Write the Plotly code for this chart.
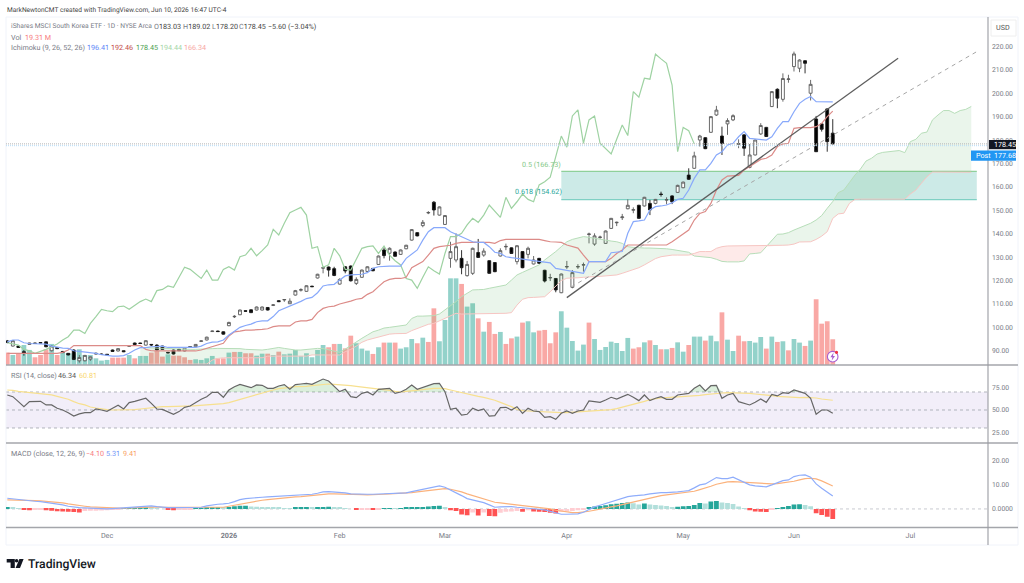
import plotly.graph_objects as go

# iShares MSCI South Korea ETF, daily bars, indexed by trading session
opens = [94.2,92,92,89.6,92.7,93.3,93.5,93.8,90,91.4,
89.7,88.9,90.3,85.7,85.7,86.4,88.9,88.6,88.5,90.3,
89.9,90,91.9,93.3,93.3,92.4,92.7,92.4,92,89.3,
90.3,90.6,89.9,91.6,91.7,94,94.6,98.2,98.4,98.1,
100.7,104.5,105.4,107.1,107.5,107.4,107.4,108.5,109.4,111.4,
111.7,110.1,113.8,115.9,115.4,117.6,121.1,125.3,125.8,125.1,
118.5,125.9,126.2,118.8,121.4,123.9,125.2,126.9,133.1,131.7,
132.2,131.2,133.6,137.3,140.5,143.5,148.9,153.5,148,144,
129.5,128.8,129.5,122.1,123.1,132,130.9,128.5,127.7,130.5,
134.4,134,128.1,132.4,131.2,127.1,129.5,124.4,121.1,120.9,
114.8,125.8,117.1,125.8,126.6,139.7,135.6,138.4,135.9,142.3,
144.7,146.9,150.7,150.1,152.2,151.9,153,153,157,154.4,
156.2,157.7,159.7,165.1,168,180.1,181.1,183.4,190.8,181.8,
187,188.7,178.3,182.3,168.4,173.7,182.7,185.5,194.4,201.8,
197.5,206,211.5,210.8,214,200.1,189.1,187,193.4,183.03]

highs = [94.6,94.5,92.1,90.3,93.4,93.4,93.7,94,92.3,91.6,
89.9,89,90.6,88.2,88.2,87.5,89.2,88.8,88.6,90.5,
91.1,90.1,92.3,93.5,93.4,94.5,92.8,92.8,92.2,89.5,
90.5,90.8,91.4,92,92.8,94.4,96,98.6,98.6,98.3,
102.4,105.2,107.6,107.3,107.7,108.9,108.9,108.7,109.9,111.6,
112.1,112.4,116,116.7,118,117.8,122.9,125.8,126,125.9,
121,126.2,126.5,121.4,124.7,126.1,125.4,130.7,134.2,134.2,
132.5,133.3,135.3,142,140.7,145.9,149.7,154,151.7,148,
136.6,140.2,133,128.4,134.1,137.8,133.8,128.7,127.9,133.8,
135.8,134.2,135.2,132.6,134.5,130.5,129.7,124.6,122.9,121.1,
123,128.4,124.5,127,127.7,140.5,140.2,139.2,141.4,146.8,
145.2,148.5,154.7,151.3,152.4,155.8,154.5,154.9,158,155.6,
156.5,161,162.3,168,175.1,182.3,181.3,190.3,194.7,185.8,
189.4,191.1,180.4,182.5,178.4,180.3,187.3,185.7,201,202.2,
208.6,208,217.9,214.6,214.2,205.8,190.4,187.2,193.6,189.02]

lows = [93.2,91.8,91.2,87.9,92.6,92.9,93.2,91.5,89.7,90.7,
89,88,86,84.9,85.5,85.7,88.5,88.2,88,89.5,
89.7,89.4,91.7,92.5,92.9,92.2,92,90,90.4,88.9,
88.4,89.9,89.7,91.4,91.6,93.8,94.4,98,98,96.9,
100.5,104,105.2,106.7,106.1,107.2,107.2,107.2,109.1,110.8,
110.9,110,113.6,115.3,115.2,117.2,120.9,123.1,121.7,121.9,
118.3,123.1,119.6,118.1,121.2,123.7,124,126.7,129.5,128.5,
130.2,131,133.4,137.1,138.9,142.8,148.4,147.8,147.8,143.8,
125.5,127.8,122.7,121.7,122.4,129.7,130.2,122.9,123.6,130.3,
133,131.4,126.9,125.3,129.5,126.9,127.2,119.2,119.8,115,
114.6,125,116.7,125,123.8,135.9,134.9,137.9,135.7,142.1,
143.3,145.9,150.5,148.8,146.4,151.7,148,152.6,155.9,152.6,
152.7,157.5,159.5,163,167.8,177.3,176.2,183.2,190.4,173.7,
182.3,188.2,176.6,173.3,168,173.5,182.3,181.4,194.2,193.7,
196.5,204.6,209.4,209.1,208.6,197,175,183.7,175.1,178.2]

closes = [93.6,94.3,91.4,88.9,93.3,93.1,93.3,91.7,92,90.9,
89.2,88.2,86.3,87.1,88,87.4,88.7,88.4,88.2,89.7,
90.9,89.6,92.1,92.7,93.1,94.3,92.5,90.3,90.6,89.1,
88.6,90,91.2,91.8,92.7,94.2,95.8,98.4,98.2,97.1,
102.1,104.7,107.4,106.9,106.3,108.7,108.7,107.4,109.6,111,
111.9,111.2,115.7,116.1,117.8,117.4,122.7,125.5,124.5,122.2,
120.5,124.1,119.9,120.5,124.5,125.9,124.2,130.5,130.7,133.8,
130.4,133.1,135.1,141.8,139.1,144.9,149.1,150.2,151.5,147.8,
132.4,134.5,125.5,126.9,133.8,129.9,132.6,123.1,123.8,132.8,
134.6,131.6,134.9,125.5,133.8,128.8,127.4,119.8,121.3,116,
122.8,126,123.4,126,126.8,139.9,139.1,138.6,141.2,146.6,
144.9,147.2,152.2,150.3,146.6,155.6,150.2,154.7,156.8,154.6,
153.7,160.7,162.1,163.3,173.3,181.8,176.4,190.1,192.9,178.6,
188.4,190.5,178.5,176.6,173.7,180.1,186.3,181.6,200.8,198,
206.4,206.2,216.9,214.3,212.9,203.9,175.1,184.7,179.4,178.45]

# Volume in millions of shares
volume = [9.3,7.5,8.8,15,11.3,5.8,7.5,11.8,15.8,7.5,
9.3,8.8,8.8,11.8,7.5,7.5,5,3.3,3.8,5.5,
5.5,5.5,7.5,5,6.8,6.8,9.3,10.5,6.3,8,
7,7,5.8,3.8,4.3,3.8,5,6.8,5,5,
9.3,9.8,9.8,8.8,8.8,7,8.5,8.5,7.5,10,
8,8.5,11.3,6.8,8.8,5.8,11.3,15,13.3,15.8,
15.8,12.5,22,16.3,12.3,10.8,8.3,13.3,16.8,16.8,
16.8,12.3,13.3,19.5,16.3,20.5,17.3,42.5,17.8,33.8,
65,65,60.8,43.8,46.3,35,25,32.3,23.3,24.8,
15.8,20,21.3,31.8,32.8,24.5,25.8,26.3,16.3,24.5,
40.3,28,18,10.8,15.3,31.8,19.5,11.3,13.5,17.5,
16.5,10.5,20.3,12.3,13.3,17,18.5,15,11.8,11.8,
12.8,17,10,15,21.3,21.3,18.3,22,17.8,39.5,
19,10.5,22,17.8,18,16.8,21,12.3,21.3,17.3,
17.8,11,19.5,16.8,14.3,18.3,49.3,31,32.8,19.31]

down_volume_sessions = [0,2,5,6,7,9,19,20,21,23,26,27,28,30,31,32,33,38,39,41,43,44,47,49,58,59,
61,62,66,68,70,74,76,77,82,85,87,88,90,91,93,96,97,98,99,105,113,114,116,118,120,123,126,129,
132,133,137,139,141,144,146,147,148,149]

tenkan = [93.8,94.6,94.6,93.4,93.1,93.1,93.1,92.8,92,91.4,
91.1,91,90,89.7,89.4,89.4,88.9,88.3,87.9,87.7,
87.7,87.9,88.9,90.3,91.3,91.3,91.7,92,92,91.4,
91.4,91.3,91.3,91.3,91.4,92,93.1,93.7,93.8,94.6,
96.7,98.3,100,100.8,101.4,102.4,102.8,102.8,104.6,107.1,
108.1,108.8,110,111.1,112.3,112.8,114.8,117.7,118.2,118.4,
120.2,122,122.4,122.4,122.7,123.4,125.2,125.9,126.2,126.2,
126.2,126.2,129.5,131.4,133.1,137.3,140.9,142.6,142.6,142.6,
140.9,139.9,138.8,137.6,136.6,136.3,136.3,134.5,132.1,131.6,
130.2,129.8,129.5,129.4,129.1,128.8,128.4,128.1,127.6,125.2,
124.8,124.5,124.1,123.5,123.1,128.1,128.1,128.1,128.1,131.9,
132.2,132.4,140.2,145.2,145.5,145.9,150.2,151.6,151.9,152.3,
153.3,154.7,155.2,158.7,163.7,167.3,167.3,170.1,173.7,175.1,
178,178.7,181.5,183.7,180.8,180.5,180.4,180.1,181.5,185.1,
188,188,192.2,195.8,197.5,198.7,196.5,196.5,196.5,196.41]

kijun = [88.9,88.9,88.9,88.9,88.9,88.9,88.9,88.9,88.9,88.9,
89.3,90.3,92.2,92.2,92.2,92.2,92.2,92.2,92.2,92.2,
92.2,92.2,92.2,92.2,92.2,90.6,90,89.9,89.9,89.9,
89.9,89.9,89.9,89.9,89.9,90.3,91,91.7,92.7,93.2,
96.3,98.1,98.4,98.8,98.8,98.8,99.1,99.4,100.3,100.6,
100.6,100.6,102.3,102.8,102.8,103.4,106.3,108.1,108.8,109.1,
110,110.5,111.2,112,112.4,114.1,115.2,117.4,119.5,120.5,
120.9,120.9,121.4,125.5,126.7,128.1,130.9,133.8,134.5,134.8,
135.1,135.9,136.3,136.3,136.3,136.3,136.3,136.3,135.9,137.1,
137.6,137.6,137.6,137.6,137.6,137.6,137.6,137.1,136.6,136.5,
136.3,135.2,134.5,133.9,130.9,128.1,128.1,128.1,128.1,129.5,
131.6,133.1,135.2,135.2,135.2,135.2,135.2,135.2,135.2,135.2,
136.6,138.4,139.8,141.6,145.9,148.7,149.5,153,158.7,163,
164.7,164.7,165,167.3,168.7,170.4,171.8,172.3,173.7,177.3,
178.4,178.7,185.1,185.4,185.4,185.4,185.8,187.2,190.1,192.46]

# Lagging span, plotted 25 sessions behind
chikou = [93.4,92.8,92.4,90.6,90,88.9,89.6,90.6,91.7,92.9,
94.6,96,98.8,98.8,97.4,101.7,104.6,107.7,107.1,106.7,
108.8,109.1,107.7,109.3,111,112.1,111,115.7,116.2,117.7,
117.1,121.4,125.7,124.8,122.8,120.9,124.5,120.2,120.2,124.8,
125.9,124.5,130.2,130.9,133.8,130.6,132.8,135.2,141.9,139.5,
144.5,149,150.2,151.3,148,133.8,134.5,125.7,126.7,133.8,
130.6,124.8,124.5,129.5,133.8,134.5,134.8,131.6,134.8,130.9,
128.5,126.7,120.9,120.2,116.7,121.4,125.9,124.2,122.8,131.6,
138.8,138.8,140.2,143.8,146.6,144.9,148,152.3,149.5,147,
155.6,150.9,153.7,157,154.7,153.7,160.9,162.3,164.2,173,
181.8,177,190.4,193,178.7,188.7,190.4,178.7,176.6,174.1,
180.4,186.5,182,200.8,198.4,206.5,206.1,216.8,214.8,212.9,
203.6,175.1,185.5,184.1,178.45]

# Leading spans, from session 24 out to 25 sessions past the last bar
span_first_session = 24
span_a = [91.4,91.3,91.1,91,90.9,90.7,
90.6,90.6,90.6,90.6,90.6,90.6,90.6,
90.9,91,91,91,91,90.9,90.6,90.4,90.3,
90.3,90.6,91,91.4,91,90.6,90.3,90.3,90.6,90.9,91,90.9,90.3,89.7,89.3,
90.7,92.3,93.7,95.3,96.7,98.1,98.8,99.7,100,
100.3,100.7,101,103.8,104.8,104.8,104.8,105,105.7,107.4,
109.1,111,113.1,114.5,116,116.1,116.2,116.7,117.1,117.7,
118.1,120.2,122.4,123.5,124.5,125.4,126.7,128.8,130.5,132.4,
134.5,136.6,137.6,138.3,138.8,138.5,138,137.8,137.3,136.9,
136.6,135.9,134.5,134.2,133.9,133.9,133.9,133.9,133.9,133.6,
133.3,133,132.4,132.1,130.5,130.2,129.9,129.8,129.1,128.2,
128,128,128,128.4,131.4,131.6,131.9,134.5,137.3,139.8,
139.9,140.5,141.6,142.6,143.8,144.5,145.9,147.8,150.9,153.8,
157.6,158.7,161.9,165.1,167.7,171.1,172.3,174.1,174.8,175,
175.4,175.6,174.7,179.4,180.4,183,183.5,188.7,190.8,192.7,
192.7,191.5,192.7,193.2,194.44]

span_b = [84.3,84.3,84.3,84.3,84.3,84.3,84.3,84.3,84.3,84.3,84.3,84.3,84.3,
86,86.7,87,
87,87,87,87,87,87,87,
87.7,87.7,87.7,87.7,87.7,87.7,87.7,87.7,
88.2,88.2,88.2,88.2,88.2,88.2,
89.6,90.6,92,93.6,94.6,95.3,96,96.7,97.1,
97.3,97.4,97.4,
98.6,99.6,100.6,101.3,101.7,102.8,103.8,104.8,
106,105.7,105.7,105.7,105.8,105.8,105.8,106,106,106,
106.3,109.5,112,112.7,112.8,112.8,113.1,115.2,117.4,120,
121,121,121.2,121.4,121.7,121.7,121.8,122,122.1,122.4,
123.1,123.8,124.8,125.5,126.7,128.1,129.4,130.2,130.6,130.9,130.9,
130.9,130.9,131.6,132.4,132.4,132.4,133.8,134.5,
134.8,134.8,134.8,134.8,134.8,134.8,134.8,134.8,134.8,
135,135.1,135.2,135.6,136.5,136.6,136.6,137.6,139,140.9,146.6,
148.5,148.8,153,154.7,
154.8,154.8,154.8,154.8,154.8,154.8,154.8,154.8,154.8,
157,158.7,161.6,164.4,
166.4,166.4,166.4,166.4,166.4,166.4,166.4,166.34]

rsi = [66.7,64.8,59.3,53.7,59.3,59.6,59.6,55.6,55.6,51.9,
50,47,43.3,45.6,47,47,51.1,50,48.5,51.9,
55.2,51.1,58.2,59.6,61.1,63,57.4,51.1,50.7,48.2,
45.2,48.2,53,54.4,58.2,61.9,64.8,69.6,69.6,64.1,
72.2,75.9,78.5,76.7,74.8,77.8,77.4,74.1,74.1,76.7,
78.2,73,78.2,78.9,79.6,78.5,81.5,84.4,82.2,76.7,
70.4,73,64.8,63.7,68.5,70,66.7,73,73.7,74.1,
68.5,70,73,77.8,73,75.2,77.8,79.3,79.6,70.4,
50.7,51.9,44.4,45.2,51.9,49.3,51.1,43.3,43.7,52.6,
53,50,53.7,46.3,51.9,48.9,48.2,41.8,42.6,39.6,
46.3,48.9,46.3,48.9,50,60,59.3,58.5,61.1,64.1,
62.2,64.8,67.4,64.1,60.4,66.7,60.4,63,64.8,61.9,
61.9,66.7,67.4,68.5,74.1,77.8,71.1,77,77.4,63,
66.7,68.5,59.3,57.4,55.6,58.5,62.2,58.5,67.4,65.6,
69.3,68.5,72.2,70.4,68.5,63,45.2,50,50,46.34]

rsi_ma = [72.2,71.9,70.7,70,69.6,69.3,68.5,67.8,66.7,65.2,
63.7,61.9,59.3,57,55.6,53.3,52.2,51.1,50.4,50,
50,50,50,50.4,51.1,51.9,52.6,53.3,53.7,53.7,
54.1,54.1,54.4,54.4,54.8,55.6,55.9,56.3,56.7,57,
58.2,60,61.9,63.7,65.6,67.4,69.3,70.7,72.2,73.7,
74.8,75.2,75.9,75.9,76.3,77,77.8,78.5,78.9,78.5,
78.2,77.4,77,76.3,75.6,75.2,74.4,74.1,73,71.9,
70.7,70,70.7,71.4,72.2,73,73.7,74.1,74.1,73.7,
72.2,70.7,68.9,67.8,66.3,65.2,64.1,62.6,60.8,58.5,
56.3,53.7,50.7,49.3,48.9,48.5,48.2,47.8,47.4,47,
47,47,47.4,47.4,47.8,48.2,48.5,48.9,49.6,50.4,
51.5,53,54.8,56.7,58.2,59.6,61.5,62.6,63.3,63.7,
64.1,64.1,64.4,64.8,65.6,66.3,67,67.8,68.5,68.9,
69.3,69.3,69.3,68.9,68.5,67.8,67.4,66.7,65.9,65.2,
64.8,64.1,63.7,63.7,64.1,64.1,63.3,62.2,61.5,60.81]

macd = [4.38,4.11,3.7,3.42,3.29,3.15,3.02,2.74,2.33,2.06,
1.65,1.1,.69,.56,.42,.28,.15,.15,.01,.15,
.28,.42,.56,.69,.97,1.1,1.24,.97,.69,.56,
.56,.56,.56,.56,.56,.69,1.24,1.65,1.92,2.06,
2.33,3.02,3.83,4.24,4.52,4.65,4.79,4.93,5.06,5.2,
5.34,5.47,5.61,5.75,5.88,6.02,6.43,6.98,7.11,6.98,
6.84,6.57,6.16,6.02,6.02,6.02,6.02,6.16,6.29,6.43,
6.43,6.57,6.57,7.11,7.52,8.07,8.62,9.03,9.44,8.89,
7.8,6.84,5.47,4.24,3.7,3.15,2.6,1.65,.69,.83,
.97,.97,.69,.56,.28,.01,-.13,-.4,-1.08,-1.77,
-2.18,-2.18,-2.18,-2.04,-1.36,-.26,.83,1.51,2.2,3.02,
3.7,4.38,5.06,5.34,5.47,5.75,6.16,6.57,6.7,6.7,
6.7,6.98,7.25,7.52,8.62,9.85,10.25,11.62,12.85,12.44,
12.44,12.99,11.89,10.8,9.85,9.44,9.16,9.03,9.85,10.66,
11.62,11.89,13.26,13.8,13.94,12.99,10.25,8.48,6.84,5.31]

signal = [3.7,3.7,3.56,3.56,3.42,3.42,3.29,3.15,2.88,2.74,
2.47,2.06,1.65,1.38,1.1,.83,.69,.56,.42,.28,
.28,.28,.42,.56,.69,.83,.83,.83,.69,.69,
.69,.69,.56,.56,.56,.56,.56,.69,.69,.69,
1.1,1.51,2.06,2.6,3.02,3.29,3.56,3.83,4.11,4.24,
4.52,4.65,4.93,5.06,5.34,5.61,5.88,6.16,6.16,6.16,
6.16,6.16,6.16,6.02,5.88,5.75,5.75,5.88,6.02,6.16,
6.29,6.29,6.43,6.7,6.98,7.25,7.52,7.8,8.21,8.34,
8.07,7.66,6.98,6.16,5.47,4.79,4.11,3.42,2.74,2.47,
2.2,2.2,1.92,1.65,1.38,1.1,.83,.42,.01,-.54,
-.95,-1.22,-1.49,-1.49,-1.36,-.95,-.54,.01,.42,.83,
1.24,1.79,2.33,2.88,3.56,4.11,4.65,5.06,5.47,5.75,
6.02,6.29,6.57,6.84,7.25,7.93,8.48,9.3,10.12,10.67,
11.07,11.21,11.07,10.94,10.66,10.39,10.25,10.12,10.25,10.39,
10.66,10.94,11.35,11.89,12.44,12.58,12.3,11.48,10.39,9.41]

macd_hist = [.5,.4,.3,-.4,-.5,-.4,-.2,-.5,-.7,-.9,
-1,-1.1,-1.3,-1.5,-.8,-.7,-.7,-.6,-.5,-.4,
-.2,.1,.2,.3,.4,.6,.5,.3,0,-.2,
-.5,-.3,-.2,-.1,.1,.2,.6,.7,.8,.7,
.8,1.1,1.3,1.3,1,.9,.8,.7,.5,.4,
.3,.2,.4,.5,.6,.5,.6,.8,.9,.6,
.4,.2,0,-.3,-.2,-.1,-.3,-.1,.2,.3,
.1,.3,.4,.5,.6,.8,1,1.2,1.3,.5,
-.5,-.8,-2.3,-2.6,-1.5,-2.7,-1.5,-2.9,-3,-1.6,
-1.2,-1,-.8,-1.2,-.5,-1,-1.1,-1.3,-1.6,-1.9,
-1.2,-1,-.8,-.5,-.2,.6,1,1.2,1.5,1.9,
2.1,2.4,2.6,2.3,1.8,2.2,1.8,1.6,1.4,1.2,
.8,.9,1.1,1.2,1.6,2.4,2.2,3,3.3,2.6,
2.4,2,1,.2,-.5,-1,-1.2,-1.3,-.3,.1,
.8,1.2,1.8,1.9,1.6,1.1,-1.8,-2.5,-3.2,-4.1]

sessions = list(range(len(closes)))
x_tick_sessions = [18, 40, 60, 79, 101, 122, 142, 163]
x_tick_labels = ["Dec", "<b>2026</b>", "Feb", "Mar", "Apr", "May", "Jun", "Jul"]
price_ticks = [90, 100, 110, 120, 130, 140, 150, 160, 170, 180, 190, 200, 210, 220]
rsi_ticks = [25, 50, 75]
macd_ticks = [0, 10, 20]
macd_tick_labels = ["0.0000", "10.00", "20.00"]

fib_labels = ["0.5 (166.73)", "0.618 (154.62)"]
fib_levels = [166.73, 154.62]
fib_span = [100, 175]
solid_trend_sessions = [101, 160.8]
solid_trend_prices = [112.7, 215.1]
dashed_trend_sessions = [101.8, 175]
dashed_trend_prices = [117.3, 217.9]
last_close = 178.45
post_price = 177.68

W, H = 1024, 583
PLOT_LEFT, PLOT_RIGHT = 6, 988
BAR_STEP, BAR_ORIGIN = 5.54, 7.3
FONT = "Roboto"
TEXT = 7.2
GREY = "#787b86"


def px(x):
    return x / W


def py(y):
    return 1 - y / H


def domain(top, bottom):
    return [py(bottom), py(top)]


fig = go.Figure()

# Volume sits on its own axis behind the price pane
volume_colors = ["#f9a8a5" if i in down_volume_sessions else "#93d2ca" for i in sessions]
fig.add_trace(go.Bar(x=sessions, y=volume, marker=dict(color=volume_colors, line_width=0), yaxis="y2"))

# Ichimoku cloud
span_x = list(range(span_first_session, span_first_session + len(span_a)))
upper = [max(a, b) for a, b in zip(span_a, span_b)]
lower = [min(a, b) for a, b in zip(span_a, span_b)]
for edge, fill in ((upper, "rgba(67,160,71,0.11)"), (lower, "rgba(244,67,54,0.11)")):
    fig.add_trace(go.Scatter(x=span_x, y=span_b, mode="lines", line=dict(width=0)))
    fig.add_trace(go.Scatter(x=span_x, y=edge, mode="lines", line=dict(width=0), fill="tonexty", fillcolor=fill))
fig.add_trace(go.Scatter(x=span_x, y=span_a, mode="lines", line=dict(color="#b7deb9", width=1)))
fig.add_trace(go.Scatter(x=span_x, y=span_b, mode="lines", line=dict(color="#f7c6c3", width=1)))

fig.add_trace(go.Scatter(x=sessions[:len(chikou)], y=chikou, mode="lines", line=dict(color="#9ed2a2", width=1.2)))
fig.add_trace(go.Scatter(x=sessions, y=kijun, mode="lines", line=dict(color="#dc8b88", width=1.2)))
fig.add_trace(go.Scatter(x=sessions, y=tenkan, mode="lines", line=dict(color="#88a9fb", width=1.2)))

fig.add_trace(go.Candlestick(
    x=sessions, open=opens, high=highs, low=lows, close=closes, whiskerwidth=0,
    increasing=dict(fillcolor="#ffffff", line=dict(color="#5a5a5a", width=0.9)),
    decreasing=dict(fillcolor="#000000", line=dict(color="#1a1a1a", width=0.9)),
))

# Drawn trend lines
fig.add_trace(go.Scatter(x=solid_trend_sessions, y=solid_trend_prices, mode="lines",
                         line=dict(color="#5e5e5e", width=1.3)))
fig.add_trace(go.Scatter(x=dashed_trend_sessions, y=dashed_trend_prices, mode="lines",
                         line=dict(color="#a6a6a6", width=1, dash="4px,4px")))

# Last-price guide lines
axis_span = [(PLOT_LEFT - BAR_ORIGIN) / BAR_STEP, (PLOT_RIGHT - BAR_ORIGIN) / BAR_STEP]
fig.add_trace(go.Scatter(x=axis_span, y=[last_close] * 2, mode="lines",
                         line=dict(color="#b4b4b4", width=1, dash="1px,1px")))
fig.add_trace(go.Scatter(x=axis_span, y=[post_price] * 2, mode="lines",
                         line=dict(color="#b7dcf7", width=1, dash="1px,1px")))

# RSI pane
fig.add_trace(go.Scatter(x=sessions, y=[70] * len(rsi), mode="lines", line=dict(width=0), yaxis="y3"))
fig.add_trace(go.Scatter(x=sessions, y=[max(v, 70) for v in rsi], mode="lines", line=dict(width=0),
                         fill="tonexty", fillcolor="rgba(76,175,80,0.2)", yaxis="y3"))
fig.add_trace(go.Scatter(x=sessions, y=rsi_ma, mode="lines", line=dict(color="#f7e08f", width=1.2), yaxis="y3"))
fig.add_trace(go.Scatter(x=sessions, y=rsi, mode="lines", line=dict(color="#666666", width=1.2), yaxis="y3"))

# MACD pane
hist_colors = []
for i, v in enumerate(macd_hist):
    prev = macd_hist[i - 1] if i else v
    if v >= 0:
        hist_colors.append("#26a69a" if v >= prev else "#b2dfdb")
    else:
        hist_colors.append("#ff5252" if v < prev else "#ffcdd2")
fig.add_trace(go.Bar(x=sessions, y=macd_hist, marker=dict(color=hist_colors, line_width=0), yaxis="y4"))
fig.add_trace(go.Scatter(x=sessions, y=signal, mode="lines", line=dict(color="#fbb27c", width=1.2), yaxis="y4"))
fig.add_trace(go.Scatter(x=sessions, y=macd, mode="lines", line=dict(color="#8fadfb", width=1.2), yaxis="y4"))

shapes = []
# Fibonacci retracement band
shapes.append(dict(type="rect", xref="x", yref="y", x0=fib_span[0], x1=fib_span[1], y0=fib_levels[1], y1=fib_levels[0],
                   fillcolor="rgba(0,150,136,0.2)", line_width=0, layer="below"))
shapes.append(dict(type="line", xref="x", yref="y", x0=fib_span[0], x1=fib_span[1], y0=fib_levels[0], y1=fib_levels[0],
                   line=dict(color="#8fd09a", width=1.2), layer="below"))
shapes.append(dict(type="line", xref="x", yref="y", x0=fib_span[0], x1=fib_span[1], y0=fib_levels[1], y1=fib_levels[1],
                   line=dict(color="#7fd0c4", width=1.4), layer="below"))
# RSI band and guides
shapes.append(dict(type="rect", xref="paper", yref="y3", x0=px(PLOT_LEFT), x1=px(PLOT_RIGHT), y0=30, y1=70,
                   fillcolor="rgba(126,87,194,0.1)", line_width=0, layer="below"))
for level in (30, 50, 70):
    shapes.append(dict(type="line", xref="paper", yref="y3", x0=px(PLOT_LEFT), x1=px(PLOT_RIGHT), y0=level, y1=level,
                       line=dict(color="#b0b3bb", width=1, dash="3px,3px"), layer="below"))
shapes.append(dict(type="line", xref="paper", yref="y4", x0=px(PLOT_LEFT), x1=px(PLOT_RIGHT), y0=0, y1=0,
                   line=dict(color="#c8cad0", width=1, dash="3px,3px"), layer="below"))
# Outer frame and pane separators
shapes.append(dict(type="rect", xref="paper", yref="paper", x0=px(PLOT_LEFT), x1=px(1018), y0=py(545), y1=py(17),
                   line=dict(color="#f0f3fa", width=1), layer="below"))
for y in (365, 443, 527.5):
    shapes.append(dict(type="line", xref="paper", yref="paper", x0=px(PLOT_LEFT), x1=px(1018), y0=py(y), y1=py(y),
                       line=dict(color="#a4a6ab", width=1.3)))
shapes.append(dict(type="line", xref="paper", yref="paper", x0=px(PLOT_RIGHT), x1=px(PLOT_RIGHT), y0=py(545), y1=py(17),
                   line=dict(color="#9a9ca2", width=1.1)))


def poly(points, fill):
    path = "M " + " L ".join(f"{px(x):.5f},{py(y):.5f}" for x, y in points) + " Z"
    return dict(type="path", xref="paper", yref="paper", path=path, fillcolor=fill, line_width=0)


def circle(cx, cy, r, **style):
    return dict(type="circle", xref="paper", yref="paper", x0=px(cx - r), x1=px(cx + r), y0=py(cy + r), y1=py(cy - r), **style)


def box(x0, x1, y0, y1, fill, edge=None):
    return dict(type="rect", xref="paper", yref="paper", x0=px(x0), x1=px(x1), y0=py(y1), y1=py(y0), fillcolor=fill,
                line=dict(color=edge, width=1) if edge else dict(width=0))


# Price-scale badges
shapes.append(box(991, 1016, 20, 36, "#ffffff", "#eeeeee"))
shapes.append(box(989, 1016, 140, 149.2, "#131722"))
shapes.append(box(971, 1016, 150.4, 160.7, "#2196f3"))
# Brand mark in the footer
shapes.append(poly([(6.7, 559), (14.8, 559), (14.8, 568), (10.6, 568), (10.6, 562.6), (6.7, 562.6)], "#131722"))
shapes.append(circle(16.6, 560.8, 1.8, fillcolor="#131722", line_width=0))
shapes.append(poly([(19.4, 559), (23.6, 559), (20, 568), (15.6, 568)], "#131722"))
# Chart alert badge beside the last bar
shapes.append(circle(832.7, 356.7, 5.3, fillcolor="#ffffff", line=dict(color="#a85fd0", width=1.1)))
shapes.append(poly([(833.6, 352.6), (830.4, 357.3), (832.4, 357.3), (831.6, 360.8), (835, 355.9), (833, 355.9)], "#a85fd0"))
shapes.append(circle(836.5, 352.3, 1.6, fillcolor="#ef3340", line_width=0))

annotations = []


def label(x, y, text, color=GREY, size=TEXT, anchor="left", **extra):
    annotations.append(dict(xref="paper", yref="paper", x=px(x - 1), y=py(y), text=text, showarrow=False,
                            xanchor=anchor, yanchor="middle", align="left",
                            font=dict(family=extra.pop("family", FONT), size=size, color=color,
                                      weight=extra.pop("weight", "normal")), **extra))


DARK = "#444444"
label(6, 9.6, "MarkNewtonCMT created with TradingView.com, Jun 10, 2026 16:47 UTC-4", DARK, 6.6)
label(10, 26, "iShares MSCI South Korea ETF · 1D · NYSE Arca", GREY, 6.7)
for x, key, value in ((153, "O", "183.03"), (182, "H", "189.02"), (211, "L", "178.20"), (238, "C", "178.45")):
    label(x, 26, f"<span style='color:{GREY}'>{key}</span>{value}", DARK)
label(267, 26, "−5.60 (−3.04%)", DARK)
label(10, 37, "Vol", GREY)
label(23.5, 37, "19.31 M", "#f77c80")
label(10, 48, "Ichimoku (9, 26, 52, 26)", GREY)
for x, value, color in ((86, "196.41", "#5b85f7"), (110, "192.46", "#c24b48"), (135, "178.45", "#4a9e4f"),
                        (159, "194.44", "#a5d6a7"), (183, "166.34", "#f7a6a3")):
    label(x, 48, value, color)
label(10, 375, "RSI (14, close)", GREY)
label(57, 375, "46.34", "#555555")
label(77.5, 375, "60.81", "#f9d66b")
label(10, 453, "MACD (close, 12, 26, 9)", GREY)
label(85, 453, "−4.10", "#f77c80")
label(105, 453, "5.31", "#6f94f7")
label(122, 453, "9.41", "#f9a15f")

label(521, 164, fib_labels[0], "#81c784")
label(513.5, 192, fib_labels[1], "#26a69a")

label(1004.4, 28, "USD", "#555555", anchor="center")
label(992.6, 144.6, "178.45", "#ffffff")
label(975, 155.6, "Post", "#ffffff")
label(992.6, 155.6, "177.68", "#ffffff")
label(27, 564, "TradingView", "#131722", 12.2, weight=500)

axis_font = dict(family=FONT, size=TEXT, color=GREY)
scale_font = dict(family=FONT, size=6.8, color=GREY)
right_axis = dict(side="right", showgrid=False, zeroline=False, showline=False, ticks="", tickfont=scale_font, anchor="x")

fig.update_layout(
    width=W, height=H, margin=dict(l=0, r=0, t=0, b=0), paper_bgcolor="#ffffff", plot_bgcolor="#ffffff",
    showlegend=False, bargap=0.14, boxgap=0.25, hovermode=False, dragmode=False,
    xaxis=dict(domain=[px(PLOT_LEFT), px(PLOT_RIGHT)], range=axis_span, anchor="y4", showgrid=False, zeroline=False,
               showline=False, ticks="", tickvals=x_tick_sessions, ticktext=x_tick_labels, tickfont=axis_font,
               ticklabelstandoff=2, rangeslider=dict(visible=False)),
    yaxis=dict(domain=domain(17, 365), range=[83.9, 232.7], overlaying="y2", tickvals=price_ticks,
               ticktext=[f"{p:.2f}" for p in price_ticks], ticklabelstandoff=3, **right_axis),
    yaxis2=dict(domain=domain(17, 365), range=[0, 261], visible=False, anchor="x"),
    yaxis3=dict(domain=domain(366, 443), range=[13.3, 98.9], tickvals=rsi_ticks,
                ticktext=[f"{r:.2f}" for r in rsi_ticks], ticklabelstandoff=3, **right_axis),
    yaxis4=dict(domain=domain(444, 527.5), range=[-7.6, 26.6], tickvals=macd_ticks, ticktext=macd_tick_labels,
                ticklabelstandoff=3, **right_axis),
    shapes=shapes, annotations=annotations,
)

# Fractional glyph advances keep the small labels from drifting wide
precise_text = ("var s=document.createElement('style');"
                "s.textContent='.main-svg text{text-rendering:geometricPrecision}';"
                "document.head.appendChild(s);")
fig.write_html("out.html", include_plotlyjs=True, config=dict(displayModeBar=False), post_script=precise_text)
